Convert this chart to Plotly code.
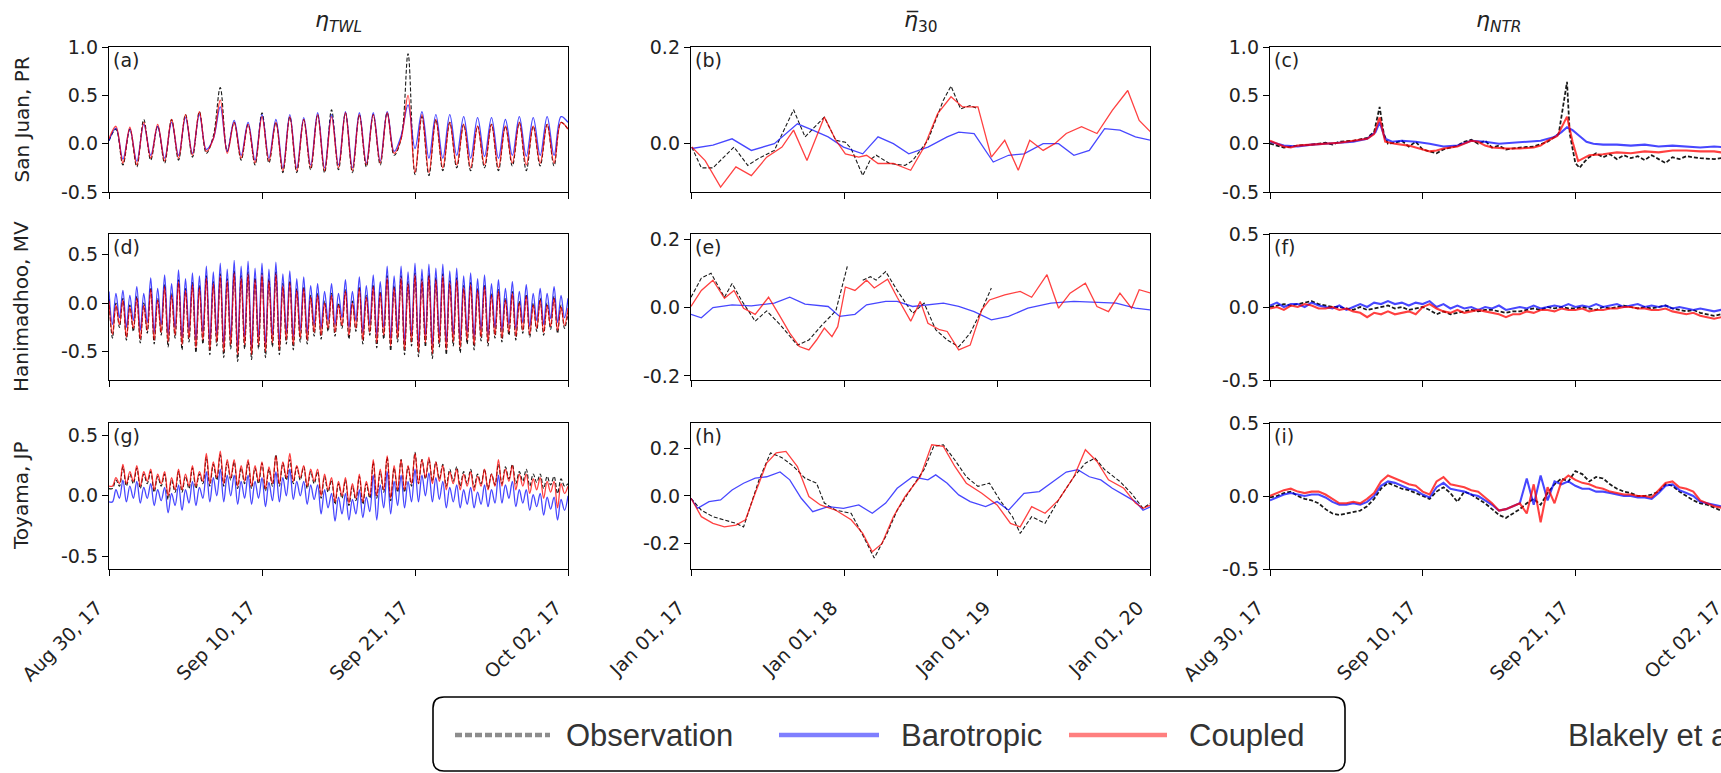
import numpy as np
import pandas as pd
import plotly.graph_objects as go

# ------------------------------------------------------------------ data
TIDE_START = "2017-08-30"     # start of the storm-period panels
MEAN_START = "2017-01-01"     # start of the 30-day-mean panels

TIDE_TICKS = ["2017-08-30", "2017-09-10", "2017-09-21", "2017-10-02"]
TIDE_TICKTEXT = ["Aug 30, 17", "Sep 10, 17", "Sep 21, 17", "Oct 02, 17"]
MEAN_TICKS = ["2017-01-01", "2018-01-01", "2019-01-01", "2020-01-01"]
MEAN_TICKTEXT = ["Jan 01, 17", "Jan 01, 18", "Jan 01, 19", "Jan 01, 20"]

COL_TITLES = ["<i>η<sub>TWL</sub></i>", "<i>η\u0305</i><sub>30</sub>", "<i>η<sub>NTR</sub></i>"]
ROW_TITLES = ["San Juan, PR", "Hanimadhoo, MV", "Toyama, JP"]
PANEL_LETTERS = ["(a)", "(b)", "(c)", "(d)", "(e)", "(f)", "(g)", "(h)", "(i)"]
SERIES_NAMES = ["Observation", "Barotropic", "Coupled"]

# (a) San Juan total water level, one value every 12 h
A_OBS = [0.03, 0.15, -0.22, 0.15, -0.24, 0.25, -0.17, 0.18, -0.20, 0.25,
         -0.17, 0.30, -0.14, 0.33, -0.10, 0.08, 0.58, -0.08, 0.22, -0.17,
         0.20, -0.22, 0.32, -0.20, 0.22, -0.30, 0.28, -0.30, 0.25, -0.27,
         0.30, -0.30, 0.35, -0.27, 0.32, -0.30, 0.30, -0.24, 0.30, -0.22,
         0.32, -0.12, 0.05, 0.93, -0.32, 0.28, -0.33, 0.25, -0.28, 0.22,
         -0.25, 0.20, -0.28, 0.18, -0.25, 0.20, -0.28, 0.18, -0.23, 0.22,
         -0.28, 0.18, -0.23, 0.20, -0.23, 0.22, 0.15]
A_BARO = [0.03, 0.16, -0.16, 0.15, -0.18, 0.20, -0.12, 0.18, -0.15, 0.22,
          -0.12, 0.27, -0.10, 0.30, -0.06, 0.05, 0.38, -0.08, 0.24, -0.12,
          0.22, -0.17, 0.30, -0.15, 0.25, -0.25, 0.30, -0.25, 0.27, -0.22,
          0.32, -0.25, 0.30, -0.22, 0.33, -0.25, 0.32, -0.20, 0.32, -0.18,
          0.33, -0.08, 0.08, 0.40, -0.05, 0.33, -0.15, 0.30, -0.15, 0.30,
          -0.12, 0.28, -0.15, 0.27, -0.13, 0.27, -0.15, 0.25, -0.12, 0.28,
          -0.13, 0.27, -0.12, 0.28, -0.12, 0.28, 0.22]
A_COUP = [0.05, 0.18, -0.20, 0.17, -0.22, 0.22, -0.15, 0.20, -0.18, 0.25,
          -0.15, 0.30, -0.12, 0.33, -0.08, 0.05, 0.45, -0.10, 0.22, -0.15,
          0.20, -0.20, 0.28, -0.18, 0.22, -0.28, 0.28, -0.28, 0.25, -0.25,
          0.30, -0.28, 0.28, -0.25, 0.32, -0.28, 0.30, -0.22, 0.30, -0.20,
          0.32, -0.10, 0.05, 0.50, -0.30, 0.30, -0.30, 0.25, -0.25, 0.22,
          -0.22, 0.20, -0.25, 0.18, -0.22, 0.20, -0.25, 0.18, -0.20, 0.22,
          -0.22, 0.18, -0.20, 0.20, -0.20, 0.22, 0.15]

# (d) Hanimadhoo total water level, one value every 6 h
D_OBS = [0.04, -0.36, 0.00, -0.25, 0.05, -0.38, -0.02, -0.29, 0.07, -0.41, 0.00, -0.31,
         0.16, -0.42, 0.05, -0.33, 0.19, -0.45, 0.10, -0.36, 0.24, -0.48, 0.15, -0.40,
         0.21, -0.51, 0.18, -0.42, 0.28, -0.53, 0.22, -0.44, 0.30, -0.56, 0.25, -0.47,
         0.33, -0.60, 0.28, -0.47, 0.32, -0.58, 0.26, -0.47, 0.31, -0.56, 0.25, -0.45,
         0.32, -0.53, 0.20, -0.42, 0.23, -0.48, 0.15, -0.40, 0.17, -0.42, 0.08, -0.34,
         0.10, -0.37, 0.02, -0.29, 0.10, -0.34, 0.00, -0.26, 0.14, -0.37, 0.02, -0.29,
         0.17, -0.42, 0.08, -0.33, 0.19, -0.46, 0.12, -0.37, 0.28, -0.49, 0.18, -0.40,
         0.28, -0.53, 0.22, -0.44, 0.31, -0.55, 0.25, -0.45, 0.30, -0.57, 0.26, -0.45,
         0.30, -0.53, 0.23, -0.44, 0.26, -0.51, 0.18, -0.42, 0.21, -0.48, 0.15, -0.39,
         0.19, -0.44, 0.10, -0.36, 0.14, -0.40, 0.05, -0.33, 0.12, -0.38, 0.02, -0.31,
         0.09, -0.35, 0.00, -0.29, 0.05, -0.33, 0.00, -0.27, 0.07, -0.31, -0.02, -0.26,
         -0.10]
D_BARO = [0.12, -0.22, 0.10, -0.15, 0.13, -0.25, 0.08, -0.18, 0.17, -0.28, 0.10, -0.20,
          0.26, -0.30, 0.15, -0.22, 0.29, -0.32, 0.20, -0.25, 0.34, -0.35, 0.25, -0.28,
          0.31, -0.38, 0.28, -0.30, 0.38, -0.40, 0.32, -0.32, 0.41, -0.42, 0.35, -0.35,
          0.44, -0.45, 0.38, -0.35, 0.43, -0.45, 0.36, -0.35, 0.41, -0.42, 0.35, -0.33,
          0.42, -0.40, 0.30, -0.30, 0.33, -0.35, 0.25, -0.28, 0.27, -0.30, 0.18, -0.22,
          0.20, -0.25, 0.12, -0.18, 0.20, -0.22, 0.10, -0.15, 0.24, -0.25, 0.12, -0.18,
          0.27, -0.30, 0.18, -0.22, 0.29, -0.33, 0.22, -0.25, 0.38, -0.36, 0.28, -0.28,
          0.38, -0.40, 0.32, -0.32, 0.41, -0.42, 0.35, -0.33, 0.40, -0.43, 0.36, -0.33,
          0.40, -0.40, 0.33, -0.32, 0.36, -0.38, 0.28, -0.30, 0.31, -0.35, 0.25, -0.27,
          0.29, -0.32, 0.20, -0.25, 0.24, -0.28, 0.15, -0.22, 0.22, -0.26, 0.12, -0.20,
          0.19, -0.24, 0.10, -0.18, 0.15, -0.22, 0.10, -0.16, 0.17, -0.20, 0.08, -0.15,
          0.05]
D_COUP = [0.02, -0.32, -0.02, -0.22, 0.03, -0.35, -0.04, -0.26, 0.05, -0.37, -0.02, -0.28,
          0.14, -0.38, 0.03, -0.30, 0.17, -0.40, 0.08, -0.33, 0.22, -0.43, 0.13, -0.36,
          0.19, -0.46, 0.16, -0.38, 0.26, -0.48, 0.20, -0.40, 0.28, -0.50, 0.23, -0.43,
          0.31, -0.53, 0.26, -0.43, 0.30, -0.53, 0.24, -0.43, 0.29, -0.50, 0.23, -0.41,
          0.30, -0.48, 0.18, -0.38, 0.21, -0.43, 0.13, -0.36, 0.15, -0.38, 0.06, -0.30,
          0.08, -0.33, 0.00, -0.26, 0.08, -0.30, -0.02, -0.23, 0.12, -0.33, 0.00, -0.26,
          0.15, -0.38, 0.06, -0.30, 0.17, -0.41, 0.10, -0.33, 0.26, -0.44, 0.16, -0.36,
          0.26, -0.48, 0.20, -0.40, 0.29, -0.50, 0.23, -0.41, 0.28, -0.52, 0.24, -0.41,
          0.28, -0.48, 0.21, -0.40, 0.24, -0.46, 0.16, -0.38, 0.19, -0.43, 0.13, -0.35,
          0.17, -0.40, 0.08, -0.33, 0.12, -0.36, 0.03, -0.30, 0.10, -0.34, 0.00, -0.28,
          0.07, -0.32, -0.02, -0.26, 0.03, -0.30, -0.02, -0.24, 0.05, -0.28, -0.04, -0.23,
          -0.05]

# (g) Toyama total water level, one value every 6 h
G_OBS = [0.06, 0.06, 0.13, 0.08, 0.24, 0.08, 0.18, 0.10, 0.23, 0.06, 0.18, 0.10,
         0.20, 0.03, 0.16, 0.08, 0.18, -0.03, 0.13, 0.03, 0.20, 0.03, 0.16, 0.06,
         0.23, 0.06, 0.18, 0.10, 0.32, 0.08, 0.26, 0.13, 0.34, 0.08, 0.28, 0.13,
         0.28, 0.06, 0.23, 0.10, 0.28, 0.06, 0.23, 0.10, 0.27, 0.04, 0.22, 0.08,
         0.34, 0.08, 0.27, 0.13, 0.30, 0.10, 0.24, 0.13, 0.24, 0.06, 0.20, 0.10,
         0.20, -0.02, 0.16, 0.03, 0.13, -0.07, 0.10, -0.02, 0.13, -0.08, 0.08, -0.04,
         0.16, -0.07, 0.10, -0.02, 0.28, -0.02, 0.20, 0.03, 0.32, -0.04, 0.23, 0.03,
         0.30, 0.03, 0.24, 0.08, 0.36, 0.10, 0.30, 0.14, 0.30, 0.12, 0.28, 0.14,
         0.26, 0.08, 0.22, 0.12, 0.24, 0.08, 0.20, 0.10, 0.22, 0.07, 0.18, 0.10,
         0.22, 0.06, 0.18, 0.09, 0.26, 0.10, 0.24, 0.14, 0.26, 0.10, 0.20, 0.12,
         0.22, 0.08, 0.18, 0.11, 0.18, 0.06, 0.16, 0.09, 0.16, 0.02, 0.14, 0.08,
         0.10]
G_BARO = [-0.05, -0.05, 0.05, -0.02, 0.13, -0.05, 0.08, -0.02, 0.12, -0.06, 0.07, -0.02,
          0.10, -0.08, 0.05, -0.04, 0.07, -0.14, 0.02, -0.08, 0.09, -0.12, 0.05, -0.06,
          0.12, -0.08, 0.07, -0.02, 0.20, -0.05, 0.15, 0.00, 0.22, -0.05, 0.17, 0.00,
          0.17, -0.07, 0.12, -0.02, 0.17, -0.07, 0.12, -0.02, 0.15, -0.09, 0.11, -0.04,
          0.20, -0.05, 0.15, 0.00, 0.22, -0.03, 0.12, 0.00, 0.12, -0.07, 0.09, -0.03,
          0.09, -0.15, 0.05, -0.10, 0.02, -0.21, -0.01, -0.15, 0.02, -0.20, -0.03, -0.15,
          0.05, -0.18, -0.01, -0.13, 0.17, -0.20, 0.09, -0.10, 0.20, -0.15, 0.12, -0.08,
          0.17, -0.10, 0.12, -0.05, 0.22, -0.05, 0.17, 0.00, 0.19, -0.05, 0.15, -0.03,
          0.12, -0.10, 0.07, -0.05, 0.09, -0.10, 0.05, -0.07, 0.07, -0.10, 0.03, -0.07,
          0.09, -0.09, 0.05, -0.06, 0.17, -0.06, 0.09, -0.02, 0.12, -0.09, 0.05, -0.06,
          0.05, -0.12, 0.01, -0.09, 0.02, -0.16, -0.01, -0.11, -0.01, -0.20, -0.03, -0.12,
          0.00]
G_COUP = [0.08, 0.08, 0.15, 0.10, 0.26, 0.10, 0.20, 0.12, 0.25, 0.08, 0.20, 0.12,
          0.22, 0.05, 0.18, 0.10, 0.20, 0.00, 0.15, 0.05, 0.22, 0.05, 0.18, 0.08,
          0.25, 0.08, 0.20, 0.12, 0.35, 0.10, 0.28, 0.15, 0.37, 0.10, 0.30, 0.15,
          0.30, 0.08, 0.25, 0.12, 0.30, 0.08, 0.25, 0.12, 0.28, 0.06, 0.24, 0.10,
          0.33, 0.10, 0.28, 0.15, 0.35, 0.12, 0.25, 0.15, 0.25, 0.08, 0.22, 0.12,
          0.22, 0.00, 0.18, 0.05, 0.15, -0.05, 0.12, 0.00, 0.15, -0.06, 0.10, -0.02,
          0.18, -0.05, 0.12, 0.00, 0.30, 0.00, 0.22, 0.05, 0.33, -0.02, 0.25, 0.05,
          0.30, 0.05, 0.25, 0.10, 0.35, 0.10, 0.30, 0.15, 0.32, 0.10, 0.28, 0.12,
          0.25, 0.05, 0.20, 0.10, 0.22, 0.05, 0.18, 0.08, 0.20, 0.04, 0.16, 0.08,
          0.22, 0.05, 0.18, 0.08, 0.30, 0.08, 0.22, 0.12, 0.25, 0.05, 0.18, 0.08,
          0.18, 0.02, 0.14, 0.05, 0.15, -0.02, 0.12, 0.03, 0.12, -0.10, 0.10, 0.02,
          0.08]

# (b), (e), (h) 30-day means: months since Jan 2017 and values
B_OBS_M = [0.06, 0.81, 1.72, 3.37, 4.45, 5.33, 6.53, 8.04, 8.94, 10.45, 11.35, 12.10, 12.55,
           13.46, 14.06, 14.51, 15.56, 16.77, 17.37, 18.57, 19.78, 20.38, 21.13, 21.88, 22.49]
B_OBS_V = [-0.007, -0.05, -0.05, -0.007, -0.045, -0.03, -0.014, 0.07, 0.014, 0.055, 0.007,
           0.003, -0.01, -0.066, -0.033, -0.024, -0.041, -0.045, -0.035, 0.007, 0.09, 0.119,
           0.072, 0.079, 0.072]
B_BARO_M = [0.06, 1.72, 3.22, 4.73, 6.53, 8.34, 9.54, 10.75, 11.95, 13.46, 14.66, 15.86, 17.07,
            18.57, 20.08, 20.98, 22.19, 23.69, 24.89, 26.10, 27.60, 28.81, 30.01, 31.22, 32.42,
            33.62, 34.83, 36.03]
B_BARO_V = [-0.01, -0.003, 0.01, -0.014, 0.0, 0.041, 0.028, 0.014, -0.007, -0.021, 0.014, 0.0,
            -0.021, -0.007, 0.014, 0.024, 0.021, -0.038, -0.024, -0.021, 0.0, 0.0, -0.024,
            -0.014, 0.031, 0.028, 0.014, 0.007]
B_COUP_M = [0.06, 1.11, 2.32, 3.52, 4.73, 5.93, 7.13, 8.04, 9.09, 10.45, 11.35, 12.10, 13.15,
            13.76, 14.66, 15.86, 17.22, 18.27, 19.33, 20.38, 21.28, 22.49, 23.54, 24.59, 25.65,
            26.55, 27.60, 28.51, 29.41, 30.61, 31.82, 33.02, 34.23, 35.13, 36.03]
B_COUP_V = [-0.007, -0.035, -0.09, -0.048, -0.066, -0.028, -0.007, 0.028, -0.035, 0.055, 0.007,
            -0.021, -0.028, -0.024, -0.041, -0.041, -0.055, -0.007, 0.062, 0.097, 0.076, 0.076,
            -0.028, 0.007, -0.055, 0.007, -0.014, 0.0, 0.021, 0.035, 0.021, 0.069, 0.110,
            0.048, 0.024]

E_OBS_M = [0.0, 0.81, 1.57, 2.62, 3.22, 3.97, 5.03, 5.93, 6.98, 8.34, 9.24, 10.29, 11.35, 12.25,
           12.85,
           13.46, 14.06, 14.51, 15.26, 16.16, 17.37, 18.27, 19.18, 20.08, 20.98, 21.88, 22.79,
           23.54]
E_OBS_V = [0.03, 0.086, 0.10, 0.03, 0.07, 0.02, -0.04, -0.01, -0.05, -0.11, -0.095, -0.05,
           -0.01, 0.12,
           None,
           0.08, 0.09, 0.08, 0.105, 0.05, -0.017, 0.013, -0.065, -0.095, -0.115, -0.075,
           -0.007, 0.057]
E_BARO_M = [0.0, 0.81, 1.72, 3.22, 4.73, 6.53, 7.74, 8.94, 10.75, 11.65, 12.85, 13.76, 15.26,
            16.16, 17.37, 18.57, 19.78, 20.98, 22.19, 23.54, 24.89, 26.40, 28.21, 30.01, 31.82,
            33.32, 34.83, 36.03]
E_BARO_V = [-0.02, -0.03, 0.0, 0.008, 0.005, 0.013, 0.03, 0.01, 0.003, -0.026, -0.02, 0.008,
            0.018, 0.018, 0.003, 0.008, 0.013, 0.003, -0.012, -0.036, -0.026, -0.002, 0.013,
            0.018, 0.015, 0.013, -0.002, -0.007]
E_COUP_M = [0.0, 0.81, 1.72, 2.62, 3.37, 4.12, 5.03, 6.08, 6.98, 7.74, 8.49, 9.24, 9.84, 10.45,
            11.05, 11.50, 12.10, 12.85, 13.76, 14.36, 15.41, 16.16, 17.22, 17.97, 18.57, 19.48,
            20.08, 20.98, 21.88, 22.79, 23.39, 24.59, 25.80, 26.70, 27.90, 28.81, 29.71, 30.91,
            31.82, 32.72, 33.62, 34.53, 35.13, 36.03]
E_COUP_V = [0.003, 0.05, 0.08, 0.027, 0.05, -0.002, -0.02, 0.03, -0.026, -0.075, -0.114, -0.124,
            -0.095, -0.06, -0.085, -0.056, 0.06, 0.05, 0.08, 0.057, 0.083, 0.03, -0.04, 0.018,
            -0.046, -0.065, -0.07, -0.124, -0.11, -0.007, 0.022, 0.037, 0.047, 0.03, 0.096,
            -0.002, 0.042, 0.071, 0.003, -0.012, 0.042, -0.002, 0.052, 0.042]

H_OBS_M = [0.0, 0.81, 1.72, 2.62, 3.52, 4.12, 5.33, 6.23, 7.13, 8.04, 8.94, 9.84, 10.45, 11.35,
           12.55, 13.46, 14.36, 15.26, 16.16, 17.37, 18.27, 19.02, 19.78, 20.68, 21.58, 22.49,
           23.39, 24.29, 25.20, 25.80, 26.70, 27.75, 28.81, 30.01, 30.91, 31.67, 32.42, 33.62,
           34.53, 35.43, 36.03]
H_OBS_V = [-0.01, -0.06, -0.087, -0.1, -0.115, -0.13, 0.067, 0.18, 0.16, 0.123, 0.074, 0.053,
           -0.03, -0.06, -0.073, -0.164, -0.26, -0.17, -0.06, 0.04, 0.11, 0.207, 0.214, 0.15,
           0.08, 0.04, 0.053, -0.024, -0.087, -0.157, -0.087, -0.115, -0.017, 0.08, 0.137,
           0.158, 0.11, 0.06, 0.01, -0.052, -0.03]
H_BARO_M = [0.0, 0.51, 1.41, 2.32, 3.22, 4.12, 5.03, 5.93, 6.98, 7.74, 8.64, 9.54, 10.75, 11.95,
            13.15, 14.21, 15.26, 16.16, 17.37, 18.57, 19.18, 20.08, 20.98, 21.88, 23.09, 23.99,
            24.89, 26.10, 27.30, 28.51, 29.41, 30.31, 31.22, 32.12, 33.02, 33.92, 34.83, 35.43,
            36.03]
H_BARO_V = [-0.01, -0.052, -0.024, -0.017, 0.025, 0.053, 0.074, 0.08, 0.10, 0.067, -0.01,
            -0.066, -0.045, -0.052, -0.038, -0.073, -0.03, 0.032, 0.08, 0.067, 0.088, 0.053,
            0.004, -0.024, -0.045, -0.024, -0.06, 0.011, 0.018, 0.067, 0.10, 0.11, 0.08, 0.067,
            0.032, 0.004, -0.024, -0.06, -0.045]
H_COUP_M = [0.0, 0.81, 1.72, 2.62, 3.52, 4.27, 5.03, 5.93, 6.68, 7.44, 8.34, 9.24, 10.14, 11.35,
            12.55, 13.46, 14.21, 14.96, 15.86, 16.77, 17.97, 18.87, 19.78, 20.68, 21.58, 22.79,
            23.99, 25.04, 25.80, 26.70, 27.75, 28.81, 30.01, 30.91, 31.82, 32.72, 33.92, 34.83,
            35.43, 36.03]
H_COUP_V = [-0.01, -0.087, -0.115, -0.13, -0.122, -0.1, 0.011, 0.137, 0.18, 0.186, 0.123,
            -0.003, -0.038, -0.06, -0.1, -0.157, -0.234, -0.2, -0.087, -0.003, 0.08, 0.214,
            0.207, 0.123, 0.053, 0.011, -0.038, -0.115, -0.13, -0.045, -0.073, -0.017, 0.08,
            0.193, 0.144, 0.067, 0.032, -0.03, -0.052, -0.038]

# (c) San Juan non-tidal residual: days since Aug 30 and values
C_OBS_D = [0, 0.5, 1, 1.5, 2, 3, 4, 4.5, 5, 6, 7, 7.5, 7.9, 8.2, 8.5, 9, 9.5, 10, 10.5, 11, 11.5,
           12, 12.5, 13, 13.5, 14, 14.5, 15, 15.5, 16, 16.5, 17, 18, 19, 20, 20.8, 21.4, 21.6,
           22.0, 22.3, 22.7, 23, 23.5, 24, 24.5, 25, 25.5, 26, 26.5, 27, 27.5, 28, 28.5, 29,
           29.5, 30, 31, 32, 33]
C_OBS_V = [0.0, -0.02, -0.04, -0.03, -0.02, -0.01, 0.01, -0.01, 0.02, 0.03, 0.06, 0.12, 0.38,
           0.1, 0.0, 0.01, 0.03, -0.03, 0.02, -0.06, -0.08, -0.1, -0.06, -0.04, -0.02, 0.02,
           0.04, 0.0, 0.03, -0.04, -0.02, -0.06, -0.04, -0.03, 0.02, 0.1, 0.64, 0.1, -0.2,
           -0.25, -0.18, -0.14, -0.1, -0.14, -0.11, -0.16, -0.12, -0.15, -0.13, -0.17, -0.12,
           -0.16, -0.2, -0.14, -0.16, -0.13, -0.15, -0.16, -0.14]
C_BARO_D = [0, 1, 2, 3, 4, 5, 6, 7, 7.6, 7.9, 8.3, 8.8, 9.5, 10.5, 11.5, 12.5, 13.5, 14.5, 15.5,
            16.5, 17.5, 18.5, 19.5, 20.5, 21.0, 21.4, 21.8, 22.3, 22.8, 23.3, 24, 25, 26, 27, 28,
            29, 30, 31, 32, 33]
C_BARO_V = [0.02, -0.02, -0.03, -0.01, 0.0, 0.01, 0.02, 0.05, 0.12, 0.22, 0.05, 0.02, 0.03,
            0.02, 0.0, -0.03, -0.02, 0.03, 0.02, 0.0, 0.01, 0.02, 0.03, 0.07, 0.12, 0.17, 0.14,
            0.08, 0.02, 0.0, -0.01, -0.01, -0.02, -0.01, -0.03, -0.02, -0.03, -0.04, -0.03,
            -0.04]
C_COUP_D = [0, 0.5, 1, 1.5, 2, 3, 4, 5, 6, 7, 7.5, 7.9, 8.3, 9, 10, 10.5, 11, 11.5, 12, 12.5,
            13.5, 14.5, 15, 15.5, 16, 17, 18, 19, 19.5, 20, 20.7, 21.4, 21.8, 22.2, 22.6, 23,
            24, 25, 26, 27, 28, 29, 30, 31, 32, 33]
C_COUP_V = [0.03, 0.0, -0.03, -0.04, -0.02, -0.01, 0.0, 0.01, 0.03, 0.05, 0.1, 0.27, 0.02,
            0.0, -0.02, -0.04, -0.06, -0.08, -0.07, -0.05, -0.03, 0.03, 0.02, -0.02, -0.04,
            -0.05, -0.05, -0.04, -0.02, 0.03, 0.08, 0.28, 0.02, -0.18, -0.15, -0.12, -0.11,
            -0.09, -0.10, -0.08, -0.09, -0.07, -0.07, -0.08, -0.08, -0.1]

# (f), (i) non-tidal residuals, one value every 12 h
F_OBS = [0.00, 0.01, 0.02, 0.01, 0.02, 0.03, 0.04, 0.02, 0.01, 0.00,
         0.00, -0.01, -0.02, 0.00, -0.02, -0.01, 0.00, 0.01, -0.01, 0.00,
         -0.02, -0.01, 0.00, -0.02, -0.05, -0.03, -0.05, -0.04, -0.03, -0.02,
         -0.03, -0.02, -0.02, -0.03, -0.04, -0.03, -0.03, -0.02, -0.01, -0.02,
         0.00, -0.01, 0.00, -0.01, -0.01, 0.00, -0.01, -0.02, 0.00, -0.01,
         0.00, 0.01, 0.00, -0.01, 0.00, -0.01, 0.00, 0.01, -0.01, -0.02,
         -0.03, -0.02, -0.04, -0.05, -0.06, -0.05, -0.06]
F_BARO = [0.01, 0.03, 0.00, 0.02, 0.02, 0.00, 0.03, 0.01, 0.00, -0.01,
          0.01, -0.02, 0.00, 0.02, 0.00, 0.03, 0.02, 0.04, 0.02, 0.03,
          0.01, 0.03, 0.02, 0.04, 0.00, 0.02, -0.01, 0.01, -0.01, 0.00,
          -0.02, 0.00, -0.01, 0.01, -0.02, -0.01, 0.00, -0.01, 0.01, -0.01,
          0.00, 0.01, 0.00, 0.02, 0.00, 0.01, 0.00, 0.02, 0.00, 0.01,
          0.02, 0.00, 0.01, 0.02, 0.00, 0.01, 0.00, 0.01, -0.01, 0.00,
          -0.01, -0.02, -0.01, -0.02, -0.03, -0.02, -0.03]
F_COUP = [-0.01, 0.00, -0.02, 0.01, 0.00, 0.02, 0.01, -0.01, -0.01, 0.00,
          -0.02, -0.01, -0.03, -0.04, -0.07, -0.04, -0.05, -0.03, -0.05, -0.04,
          -0.03, -0.05, 0.00, 0.02, -0.01, -0.03, -0.04, -0.02, -0.04, -0.03,
          -0.02, -0.03, -0.04, -0.05, -0.07, -0.05, -0.05, -0.03, -0.04, -0.02,
          -0.02, -0.03, -0.01, -0.02, -0.02, -0.01, -0.03, -0.02, -0.02, -0.01,
          -0.01, 0.00, 0.00, -0.01, -0.01, -0.02, -0.02, -0.01, -0.03, -0.04,
          -0.05, -0.04, -0.06, -0.07, -0.08, -0.07, -0.08]
I_OBS = [-0.01, 0.00, 0.02, 0.03, 0.00, -0.02, -0.03, -0.05, -0.09, -0.12,
         -0.13, -0.12, -0.11, -0.10, -0.07, -0.02, 0.05, 0.09, 0.07, 0.05,
         0.04, 0.02, 0.00, -0.02, 0.03, 0.06, 0.02, -0.04, 0.03, 0.01,
         -0.02, -0.05, -0.09, -0.13, -0.15, -0.12, -0.09, -0.05, -0.02, -0.06,
         0.02, 0.08, 0.12, 0.10, 0.17, 0.15, 0.10, 0.13, 0.12, 0.08,
         0.05, 0.03, 0.02, 0.00, 0.00, 0.01, 0.03, 0.08, 0.07, 0.03,
         0.00, -0.03, -0.05, -0.06, -0.08, -0.10, -0.10]
I_BARO = [-0.03, -0.01, 0.01, 0.02, 0.01, 0.00, 0.01, 0.01, -0.01, -0.04,
          -0.06, -0.06, -0.05, -0.06, -0.04, 0.00, 0.07, 0.10, 0.09, 0.07,
          0.05, 0.04, 0.01, -0.01, 0.06, 0.09, 0.05, 0.04, 0.03, 0.01,
          0.00, -0.03, -0.06, -0.10, -0.09, -0.07, -0.05, 0.12, -0.06, 0.14,
          -0.03, 0.10, 0.08, 0.10, 0.07, 0.05, 0.05, 0.03, 0.03, 0.02,
          0.01, 0.00, 0.00, -0.01, -0.01, -0.02, 0.02, 0.07, 0.08, 0.04,
          0.02, 0.00, -0.04, -0.05, -0.06, -0.07, -0.08]
I_COUP = [0.00, 0.02, 0.04, 0.05, 0.03, 0.02, 0.03, 0.03, 0.01, -0.02,
          -0.05, -0.05, -0.04, -0.05, -0.02, 0.02, 0.10, 0.14, 0.12, 0.10,
          0.08, 0.07, 0.03, 0.01, 0.10, 0.13, 0.08, 0.07, 0.06, 0.04,
          0.03, -0.01, -0.05, -0.10, -0.09, -0.07, -0.05, -0.12, 0.08, -0.18,
          0.06, -0.05, 0.10, 0.14, 0.11, 0.09, 0.08, 0.06, 0.05, 0.03,
          0.02, 0.01, 0.01, 0.00, 0.00, -0.01, 0.04, 0.09, 0.10, 0.06,
          0.05, 0.03, -0.03, -0.05, -0.07, -0.08, -0.09]

# y-axis settings per panel (range, tick values, tick labels)
Y_RANGES = [[-0.5, 1.0], [-0.1, 0.2], [-0.5, 1.0],
            [-0.79, 0.71], [-0.212, 0.215], [-0.5, 0.5],
            [-0.605, 0.602], [-0.306, 0.305], [-0.5, 0.5]]
Y_TICKS = [[-0.5, 0.0, 0.5, 1.0], [0.0, 0.2], [-0.5, 0.0, 0.5, 1.0],
           [-0.5, 0.0, 0.5], [-0.2, 0.0, 0.2], [-0.5, 0.0, 0.5],
           [-0.5, 0.0, 0.5], [-0.2, 0.0, 0.2], [-0.5, 0.0, 0.5]]
Y_TICKTEXT = [["-0.5", "0.0", "0.5", "1.0"], ["0.0", "0.2"], ["-0.5", "0.0", "0.5", "1.0"],
              ["-0.5", "0.0", "0.5"], ["-0.2", "0.0", "0.2"], ["-0.5", "0.0", "0.5"],
              ["-0.5", "0.0", "0.5"], ["-0.2", "0.0", "0.2"], ["-0.5", "0.0", "0.5"]]

# ------------------------------------------------------------------ helpers
t0_tide = pd.Timestamp(TIDE_START)
t0_mean = pd.Timestamp(MEAN_START)


def grid_times(n, hours):
    return t0_tide + pd.to_timedelta(np.arange(n) * hours, unit="h")


def day_times(days):
    return t0_tide + pd.to_timedelta(np.asarray(days, dtype=float) * 24.0, unit="h")


def month_times(months):
    return t0_mean + pd.to_timedelta(np.asarray(months, dtype=float) * 30.4375, unit="D")


# panel -> list of (x, y) for obs, barotropic, coupled
panels = [
    [(grid_times(len(A_OBS), 12), A_OBS), (grid_times(len(A_BARO), 12), A_BARO),
     (grid_times(len(A_COUP), 12), A_COUP)],
    [(month_times(B_OBS_M), B_OBS_V), (month_times(B_BARO_M), B_BARO_V),
     (month_times(B_COUP_M), B_COUP_V)],
    [(day_times(C_OBS_D), C_OBS_V), (day_times(C_BARO_D), C_BARO_V),
     (day_times(C_COUP_D), C_COUP_V)],
    [(grid_times(len(D_OBS), 6), D_OBS), (grid_times(len(D_BARO), 6), D_BARO),
     (grid_times(len(D_COUP), 6), D_COUP)],
    [(month_times(E_OBS_M), E_OBS_V), (month_times(E_BARO_M), E_BARO_V),
     (month_times(E_COUP_M), E_COUP_V)],
    [(grid_times(len(F_OBS), 12), F_OBS), (grid_times(len(F_BARO), 12), F_BARO),
     (grid_times(len(F_COUP), 12), F_COUP)],
    [(grid_times(len(G_OBS), 6), G_OBS), (grid_times(len(G_BARO), 6), G_BARO),
     (grid_times(len(G_COUP), 6), G_COUP)],
    [(month_times(H_OBS_M), H_OBS_V), (month_times(H_BARO_M), H_BARO_V),
     (month_times(H_COUP_M), H_COUP_V)],
    [(grid_times(len(I_OBS), 12), I_OBS), (grid_times(len(I_BARO), 12), I_BARO),
     (grid_times(len(I_COUP), 12), I_COUP)],
]

# ------------------------------------------------------------------ layout constants (pixels)
W, H = 1745, 773
COL_PX = [(109, 568), (691, 1150), (1270, 1728)]
ROW_PX = [(47, 192), (234, 380), (423, 569)]
FONT = "DejaVu Sans"
TXT = "#222222"


def px_x(p):
    return p / W


def px_y(p):
    return 1 - p / H


STYLES = [
    dict(color="rgba(0,0,0,0.9)", width=1.1, dash="4px,2px"),
    dict(color="rgba(0,0,255,0.72)", width=1.3),
    dict(color="rgba(255,0,0,0.75)", width=1.3),
]

fig = go.Figure()
layout = dict(width=W, height=H, margin=dict(l=0, r=0, t=0, b=0),
              paper_bgcolor="white", plot_bgcolor="white", showlegend=False,
              template="none", font=dict(family=FONT, color=TXT, size=19))

annotations = []
for i in range(9):
    r, c = divmod(i, 3)
    n = i + 1
    xs = "x" if n == 1 else f"x{n}"
    ys = "y" if n == 1 else f"y{n}"
    spline = (c == 0)
    lw_scale = 1.6 if c == 2 else 1.0
    for k, (xv, yv) in enumerate(panels[i]):
        st = dict(STYLES[k])
        st["width"] = st["width"] * lw_scale
        if spline:
            st["shape"] = "spline"
        fig.add_trace(go.Scatter(x=xv, y=yv, mode="lines", line=st, xaxis=xs, yaxis=ys,
                                 connectgaps=False, hoverinfo="skip",
                                 name=SERIES_NAMES[k]))
    if c == 1:
        xr, tv, tt = [MEAN_START, "2020-01-01"], MEAN_TICKS, MEAN_TICKTEXT
    else:
        xr, tv, tt = [TIDE_START, "2017-10-02"], TIDE_TICKS, TIDE_TICKTEXT
    x0, x1 = COL_PX[c]
    y0, y1 = ROW_PX[r]
    layout["xaxis" if n == 1 else f"xaxis{n}"] = dict(
        domain=[px_x(x0), px_x(x1)], anchor=ys, type="date", range=xr,
        tickmode="array", tickvals=tv, ticktext=tt, showticklabels=(r == 2),
        tickangle=-45, ticks="outside", ticklen=6, tickwidth=1.3, tickcolor="black",
        ticklabelstandoff=13, ticklabelshift=-12,
        showline=True, linecolor="black", linewidth=1.4, mirror=True,
        showgrid=False, zeroline=False, automargin=False,
        tickfont=dict(family=FONT, size=19, color=TXT))
    layout["yaxis" if n == 1 else f"yaxis{n}"] = dict(
        domain=[px_y(y1), px_y(y0)], anchor=xs, range=Y_RANGES[i],
        tickmode="array", tickvals=Y_TICKS[i], ticktext=Y_TICKTEXT[i],
        ticks="outside", ticklen=6, tickwidth=1.3, tickcolor="black",
        showline=True, linecolor="black", linewidth=1.4, mirror=True,
        showgrid=False, zeroline=False, automargin=False,
        tickfont=dict(family=FONT, size=19, color=TXT))
    annotations.append(dict(text=PANEL_LETTERS[i], xref=f"{xs} domain", yref=f"{ys} domain",
                            x=0.004, y=1.0, xanchor="left", yanchor="top", showarrow=False,
                            font=dict(family=FONT, size=19, color=TXT)))

for c in range(3):
    cx = (COL_PX[c][0] + COL_PX[c][1]) / 2
    annotations.append(dict(text=COL_TITLES[c], xref="paper", yref="paper", x=px_x(cx),
                            y=px_y(21), xanchor="center", yanchor="middle", showarrow=False,
                            font=dict(family=FONT, size=22, color=TXT)))
for r in range(3):
    cy = (ROW_PX[r][0] + ROW_PX[r][1]) / 2
    annotations.append(dict(text=ROW_TITLES[r], xref="paper", yref="paper", x=px_x(21),
                            y=px_y(cy), xanchor="center", yanchor="middle", textangle=-90,
                            showarrow=False, font=dict(family=FONT, size=20, color=TXT)))

# legend (drawn as a rounded box with long line samples)
LEG_BOX = (433, 697, 1345, 771)
LEG_Y = 735
LEG_LINES = [(455, 550), (779, 879), (1069, 1167)]
LEG_TEXT_X = [564, 899, 1187]
LEG_COLORS = ["rgba(0,0,0,0.45)", "rgba(0,0,255,0.5)", "rgba(255,0,0,0.5)"]
LEG_FONT = "Liberation Sans"
LEG_SIZE = 31

bx0, by0, bx1, by1 = LEG_BOX
rad = 11
path = (f"M {px_x(bx0 + rad)},{px_y(by0)} L {px_x(bx1 - rad)},{px_y(by0)} "
        f"Q {px_x(bx1)},{px_y(by0)} {px_x(bx1)},{px_y(by0 + rad)} "
        f"L {px_x(bx1)},{px_y(by1 - rad)} Q {px_x(bx1)},{px_y(by1)} {px_x(bx1 - rad)},{px_y(by1)} "
        f"L {px_x(bx0 + rad)},{px_y(by1)} Q {px_x(bx0)},{px_y(by1)} {px_x(bx0)},{px_y(by1 - rad)} "
        f"L {px_x(bx0)},{px_y(by0 + rad)} Q {px_x(bx0)},{px_y(by0)} {px_x(bx0 + rad)},{px_y(by0)} Z")
shapes = [dict(type="path", path=path, xref="paper", yref="paper",
               line=dict(color="black", width=1.6), fillcolor="rgba(0,0,0,0)")]
for k in range(3):
    lx0, lx1 = LEG_LINES[k]
    shapes.append(dict(type="line", xref="paper", yref="paper", x0=px_x(lx0), x1=px_x(lx1),
                       y0=px_y(LEG_Y), y1=px_y(LEG_Y),
                       line=dict(color=LEG_COLORS[k], width=4.5,
                                 dash="7px,3px" if k == 0 else "solid")))
    annotations.append(dict(text=SERIES_NAMES[k], xref="paper", yref="paper",
                            x=px_x(LEG_TEXT_X[k]), y=px_y(LEG_Y), xanchor="left",
                            yanchor="middle", showarrow=False,
                            font=dict(family=LEG_FONT, size=LEG_SIZE, color="#333333")))

annotations.append(dict(text="Blakely et al.", xref="paper", yref="paper", x=px_x(1566),
                        y=px_y(LEG_Y), xanchor="left", yanchor="middle", showarrow=False,
                        font=dict(family=LEG_FONT, size=LEG_SIZE, color="#333333")))

layout["annotations"] = annotations
layout["shapes"] = shapes
fig.update_layout(**layout)

fig.write_html(
    "out.html",
    config={"displayModeBar": False},
    post_script=("document.documentElement.style.overflow='hidden';"
                 "document.body.style.overflow='hidden';document.body.style.margin='0';"),
)
